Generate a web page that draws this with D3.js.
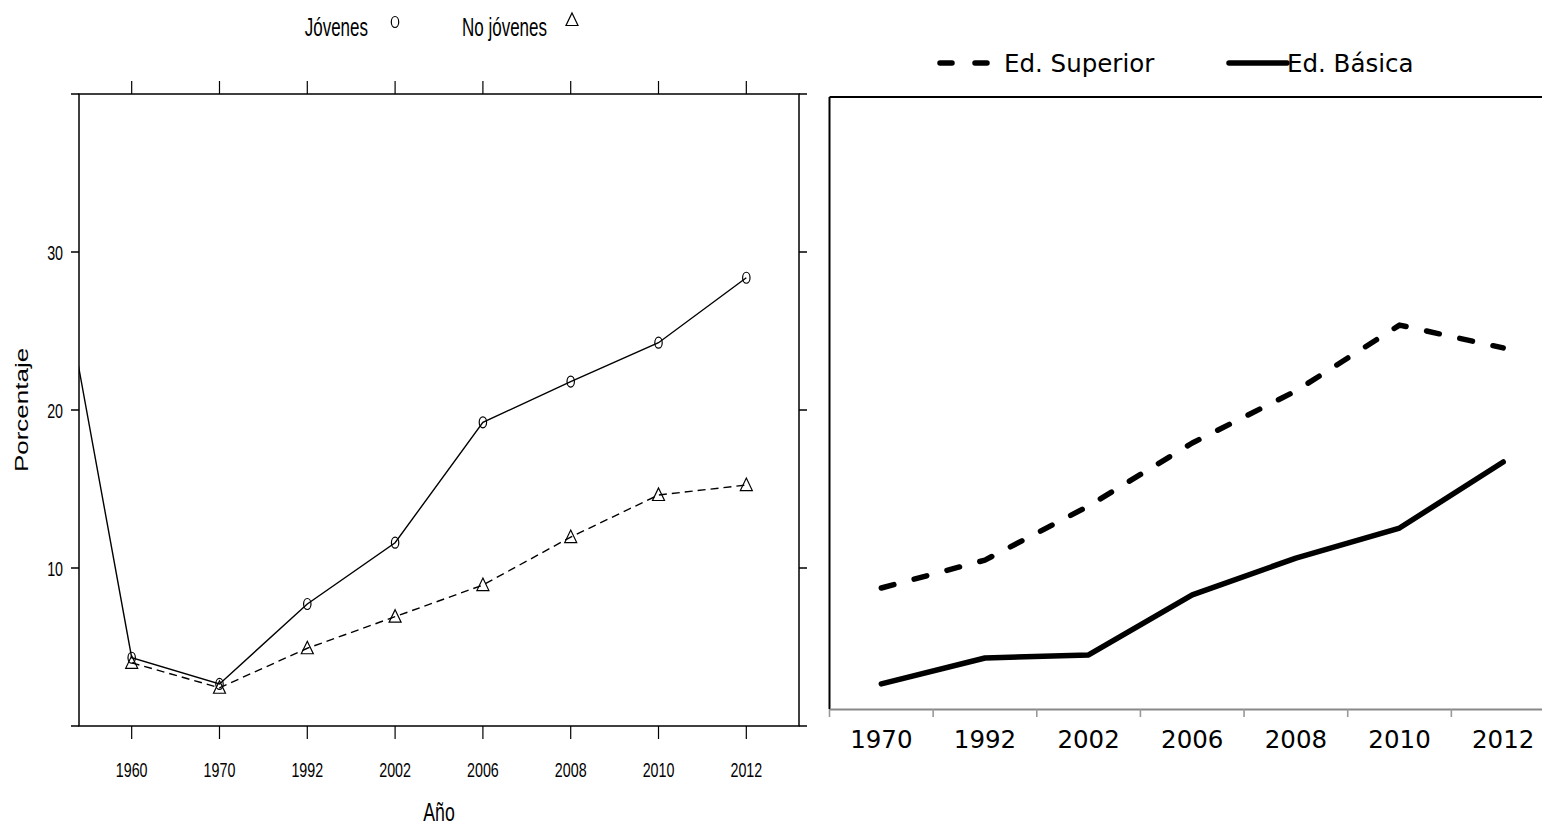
<!DOCTYPE html>
<html>
<head>
<meta charset="utf-8">
<script src="https://cdn.jsdelivr.net/npm/d3@7"></script>
<style>
  body { margin: 0; background: #fff; }
  svg { display: block; }
</style>
</head>
<body>
<svg width="1542" height="830"></svg>
<script>
// left panel (lattice style): years and the two groups
const years = ["1960", "1970", "1992", "2002", "2006", "2008", "2010", "2012"]
const jovenes = [4.32, 2.66, 7.72, 11.6, 19.22, 21.8, 24.26, 28.37]
const noJovenes = [4.0, 2.42, 4.92, 6.92, 8.92, 11.96, 14.62, 15.25]
const jovenesLead = 34.8   // unlabeled point before 1960, clipped by the panel
const yTicks = [0, 10, 20, 30, 40]
const yTickLabels = ["", "10", "20", "30", ""]

// right panel (spreadsheet style)
const years2 = ["1970", "1992", "2002", "2006", "2008", "2010", "2012"]
const superior = [5.93, 7.30, 9.95, 13.04, 15.59, 18.82, 17.70]
const basica = [1.23, 2.50, 2.65, 5.59, 7.40, 8.87, 12.11]

const svg = d3.select('svg')
const SQ = 0.68   // horizontal squeeze of the lattice text/markers
const rightFont = 'DejaVu Sans, Verdana, sans-serif'

function sqText(g, x, y, txt, size, anchor, rot) {
    return g.append('text')
        .attr('transform', `translate(${x},${y}) scale(${SQ},1)` + (rot ? ` rotate(${rot})` : ''))
        .attr('text-anchor', anchor)
        .attr('font-family', 'Liberation Sans, Arial, sans-serif')
        .attr('font-size', size)
        .attr('fill', '#000')
        .text(txt)
}

// ---------- left panel ----------
const L = { left: 79, right: 799, top: 94, bottom: 726 }
const x1 = d3.scaleLinear().domain([0.4, years.length + 0.6]).range([L.left, L.right])
const y1 = d3.scaleLinear().domain([0, 40]).range([L.bottom, L.top])
const left = svg.append('g')

left.append('clipPath').attr('id', 'clipL')
    .append('rect')
    .attr('x', L.left).attr('y', L.top)
    .attr('width', L.right - L.left).attr('height', L.bottom - L.top)

const line1 = d3.line().x(d => x1(d[0])).y(d => y1(d[1]))

const jovPts = [[0, jovenesLead]].concat(jovenes.map((v, i) => [i + 1, v]))
const noPts = noJovenes.map((v, i) => [i + 1, v])

const plot = left.append('g').attr('clip-path', 'url(#clipL)')
plot.append('path')
    .attr('d', line1(noPts))
    .attr('fill', 'none')
    .attr('stroke', '#000')
    .attr('stroke-width', 1.4)
    .attr('stroke-dasharray', '8,5')
plot.append('path')
    .attr('d', line1(jovPts))
    .attr('fill', 'none')
    .attr('stroke', '#000')
    .attr('stroke-width', 1.4)

const triPath = 'M0,-7 L6,5.5 L-6,5.5 Z'

plot.selectAll('ellipse.jov')
    .data(jovenes)
    .enter()
    .append('ellipse')
    .attr('cx', (d, i) => x1(i + 1))
    .attr('cy', d => y1(d))
    .attr('rx', 3.7).attr('ry', 5.5)
    .attr('fill', 'none').attr('stroke', '#000').attr('stroke-width', 1.2)

plot.selectAll('path.tri')
    .data(noJovenes)
    .enter()
    .append('path')
    .attr('d', triPath)
    .attr('transform', (d, i) => `translate(${x1(i + 1)},${y1(d)})`)
    .attr('fill', 'none').attr('stroke', '#000').attr('stroke-width', 1.2)

// frame
left.append('rect')
    .attr('x', L.left).attr('y', L.top)
    .attr('width', L.right - L.left).attr('height', L.bottom - L.top)
    .attr('fill', 'none').attr('stroke', '#000').attr('stroke-width', 1.5)

// y ticks both sides
yTicks.forEach((t, i) => {
    left.append('line')
        .attr('x1', L.left - 8).attr('x2', L.left)
        .attr('y1', y1(t)).attr('y2', y1(t))
        .attr('stroke', '#000').attr('stroke-width', 1.5)
    left.append('line')
        .attr('x1', L.right).attr('x2', L.right + 8)
        .attr('y1', y1(t)).attr('y2', y1(t))
        .attr('stroke', '#000').attr('stroke-width', 1.5)
    if (yTickLabels[i])
        sqText(left, L.left - 16, y1(t) + 7.5, yTickLabels[i], 21, 'end')
})

// x ticks top and bottom
years.forEach((yr, i) => {
    const xx = x1(i + 1)
    left.append('line')
        .attr('x1', xx).attr('x2', xx)
        .attr('y1', L.bottom).attr('y2', L.bottom + 13)
        .attr('stroke', '#000').attr('stroke-width', 1.2)
    left.append('line')
        .attr('x1', xx).attr('x2', xx)
        .attr('y1', L.top).attr('y2', L.top - 13)
        .attr('stroke', '#000').attr('stroke-width', 1.2)
    sqText(left, xx, 777, yr, 21, 'middle')
})

sqText(left, (L.left + L.right) / 2, 821, 'Año', 26, 'middle')
sqText(left, 28, (L.top + L.bottom) / 2, 'Porcentaje', 26, 'middle', -90)

// key
sqText(left, 368, 36, 'Jóvenes', 25, 'end')
left.append('ellipse')
    .attr('cx', 395).attr('cy', 22).attr('rx', 3.7).attr('ry', 5.5)
    .attr('fill', 'none').attr('stroke', '#000').attr('stroke-width', 1.2)
sqText(left, 547, 36, 'No jóvenes', 25, 'end')
left.append('path')
    .attr('d', triPath)
    .attr('transform', 'translate(572,20)')
    .attr('fill', 'none').attr('stroke', '#000').attr('stroke-width', 1.2)

// ---------- right panel ----------
const R = { left: 829.5, right: 1555, top: 97, bottom: 709 }
const x2 = d3.scaleBand().domain(years2).range([R.left, R.right]).padding(0)
const y2 = d3.scaleLinear().domain([0, 30]).range([R.bottom, R.top])
const right = svg.append('g')

right.append('line')
    .attr('x1', R.left).attr('x2', 1542)
    .attr('y1', R.top).attr('y2', R.top)
    .attr('stroke', '#000').attr('stroke-width', 2)
right.append('line')
    .attr('x1', R.left).attr('x2', R.left)
    .attr('y1', R.top).attr('y2', R.bottom)
    .attr('stroke', '#000').attr('stroke-width', 2)

const xAxis2 = d3.axisBottom(x2).tickSize(0).tickPadding(22)
const ax = right.append('g')
    .attr('transform', `translate(0,${R.bottom})`)
    .call(xAxis2)
ax.select('.domain').attr('stroke', '#888').attr('stroke-width', 2.2)
ax.selectAll('text')
    .attr('font-family', rightFont)
    .attr('font-size', 24.5)
    .attr('fill', '#000')
// category boundary ticks
ax.selectAll('line.bnd')
    .data(years2.concat(['end']))
    .enter()
    .append('line')
    .attr('x1', (d, i) => R.left + i * x2.bandwidth())
    .attr('x2', (d, i) => R.left + i * x2.bandwidth())
    .attr('y1', 0).attr('y2', 8)
    .attr('stroke', '#999').attr('stroke-width', 1.6)

const line2 = d3.line()
    .x((d, i) => x2(years2[i]) + x2.bandwidth() / 2)
    .y(d => y2(d))

right.append('path')
    .attr('d', line2(superior))
    .attr('fill', 'none').attr('stroke', '#000')
    .attr('stroke-width', 5.5)
    .attr('stroke-linecap', 'round')
    .attr('stroke-linejoin', 'round')
    .attr('stroke-dasharray', '13,21')
right.append('path')
    .attr('d', line2(basica))
    .attr('fill', 'none').attr('stroke', '#000')
    .attr('stroke-width', 5.5)
    .attr('stroke-linecap', 'round')
    .attr('stroke-linejoin', 'round')

// legend
right.append('line')
    .attr('x1', 940).attr('x2', 988)
    .attr('y1', 63).attr('y2', 63)
    .attr('stroke', '#000').attr('stroke-width', 5.5)
    .attr('stroke-linecap', 'round')
    .attr('stroke-dasharray', '12,23')
right.append('text')
    .attr('x', 1004).attr('y', 72)
    .attr('font-family', rightFont)
    .attr('font-size', 24.5)
    .text('Ed. Superior')
right.append('line')
    .attr('x1', 1229).attr('x2', 1287)
    .attr('y1', 63).attr('y2', 63)
    .attr('stroke', '#000').attr('stroke-width', 5.5)
    .attr('stroke-linecap', 'round')
right.append('text')
    .attr('x', 1287).attr('y', 72)
    .attr('font-family', rightFont)
    .attr('font-size', 24.5)
    .text('Ed. Básica')
</script>
</body>
</html>
